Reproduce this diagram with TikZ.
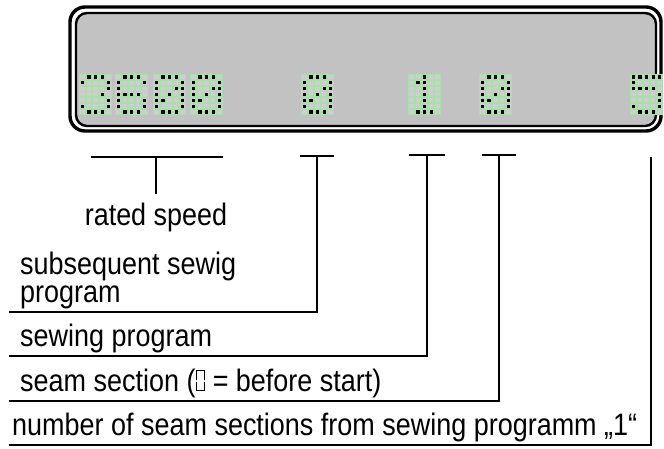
\documentclass[tikz,border=0pt]{standalone}
\usepackage{fontspec}
\setmainfont{Liberation Sans}[FakeStretch=0.87]
\usetikzlibrary{positioning}

\definecolor{panelgray}{RGB}{194,194,194}
\definecolor{lcdgreen}{RGB}{170,222,170}
\definecolor{lcdoff}{RGB}{204,208,204}

% one 5x7 dot matrix character, #1 = left edge, #2 = lit dots col/row
\newcommand{\lcddigit}[2]{%
  \fill[lcdgreen] (#1,74) rectangle ++(33,41);
  \foreach \c in {1,...,5}
    \foreach \r in {1,...,7}
      \fill[lcdoff] ({#1+1+(\c-1)*6.6},{74+0.9+(\r-1)*5.857}) rectangle ++(4.6,4);
  \foreach \c/\r in {#2}
    \fill[black] ({#1+1.7+(\c-1)*6.6},{74+1.3+(\r-1)*5.857}) rectangle ++(3.2,3.2);
}
\newcommand{\segnull}{\tikz[baseline=0pt,x=1pt,y=1pt,line width=1.5pt]{%
  \draw (0.8,11) -- (0.8,21) -- (9,21) -- (9,11);
  \draw (0.8,9.6) -- (0.8,0.8) -- (9,0.8) -- (9,9.6);}}

\begin{document}
\begin{tikzpicture}[x=1pt,y=-1pt]
\tikzset{lbl/.style={font=\fontsize{31}{28}\selectfont, inner sep=0pt, align=left},
         conn/.style={line width=1.6pt}}
\useasboundingbox (0,0) rectangle (664,448);

% display
\draw [line width=3.4pt, rounded corners=15pt] (70,7) rectangle (661,131);
\draw [fill=panelgray, line width=2.4pt, rounded corners=11pt] (76,13) rectangle (656,126);

% 3600
\lcddigit{79}{2/1,3/1,4/1,1/2,5/2,5/3,4/4,5/5,1/6,5/6,2/7,3/7,4/7}
\lcddigit{115}{2/1,3/1,4/1,1/2,5/2,1/3,1/4,2/4,3/4,4/4,1/5,5/5,1/6,5/6,2/7,3/7,4/7}
\lcddigit{153}{2/1,3/1,4/1,1/2,5/2,1/3,4/3,5/3,1/4,3/4,5/4,1/5,2/5,5/5,1/6,5/6,2/7,3/7,4/7}
\lcddigit{190}{2/1,3/1,4/1,1/2,5/2,1/3,4/3,5/3,1/4,3/4,5/4,1/5,2/5,5/5,1/6,5/6,2/7,3/7,4/7}
% 0
\lcddigit{301}{2/1,3/1,4/1,1/2,5/2,1/3,4/3,5/3,1/4,3/4,5/4,1/5,2/5,5/5,1/6,5/6,2/7,3/7,4/7}
% 1
\lcddigit{408}{3/1,2/2,3/2,3/3,3/4,3/5,3/6,2/7,3/7,4/7}
% 0
\lcddigit{479}{2/1,3/1,4/1,1/2,5/2,1/3,4/3,5/3,1/4,3/4,5/4,1/5,2/5,5/5,1/6,5/6,2/7,3/7,4/7}
% 5
\lcddigit{630}{1/1,2/1,3/1,4/1,5/1,1/2,1/3,2/3,3/3,4/3,5/4,5/5,1/6,5/6,2/7,3/7,4/7}

% rated speed
\coordinate (rleft) at (91,157);
\coordinate (rright) at (223,157);
\coordinate (rmid) at (156,157);
\coordinate (rstem) at (156,194);
\draw [conn] (rleft) -- (rright);
\draw [conn] (rmid) -- (rstem);
\node [lbl, below=9pt of rstem] (rated) {rated speed};

% ticks
\coordinate (tsub) at (317,156);
\coordinate (tprg) at (427,155);
\coordinate (tsec) at (499,155);
\coordinate (tnum) at (651,157);
\draw [conn] ([xshift=-17pt]tsub) -- ([xshift=17pt]tsub);
\draw [conn] ([xshift=-18pt]tprg) -- ([xshift=18pt]tprg);
\draw [conn] ([xshift=-17pt]tsec) -- ([xshift=17pt]tsec);

% labels
\coordinate (usub) at (9,312);
\coordinate (uprg) at (9,356);
\coordinate (usec) at (9,401);
\coordinate (unum) at (9,445);
\node [lbl, above right=3pt and 11pt of usub] (subseq) {subsequent sewig\\program};
\node [lbl, above right=3pt and 11pt of uprg] (sewprg) {sewing program};
\node [lbl, above right=3pt and 11pt of usec] (seamsec) {seam section (\segnull{} = before start)};
\node [lbl, above right=3pt and 3pt of unum] (numsec) {number of seam sections from sewing programm „1“};

\draw [conn] (usub) -| (tsub);
\draw [conn] (uprg) -| (tprg);
\draw [conn] (usec) -| (tsec);
\draw [conn] (unum) -| (tnum);
\end{tikzpicture}
\end{document}
